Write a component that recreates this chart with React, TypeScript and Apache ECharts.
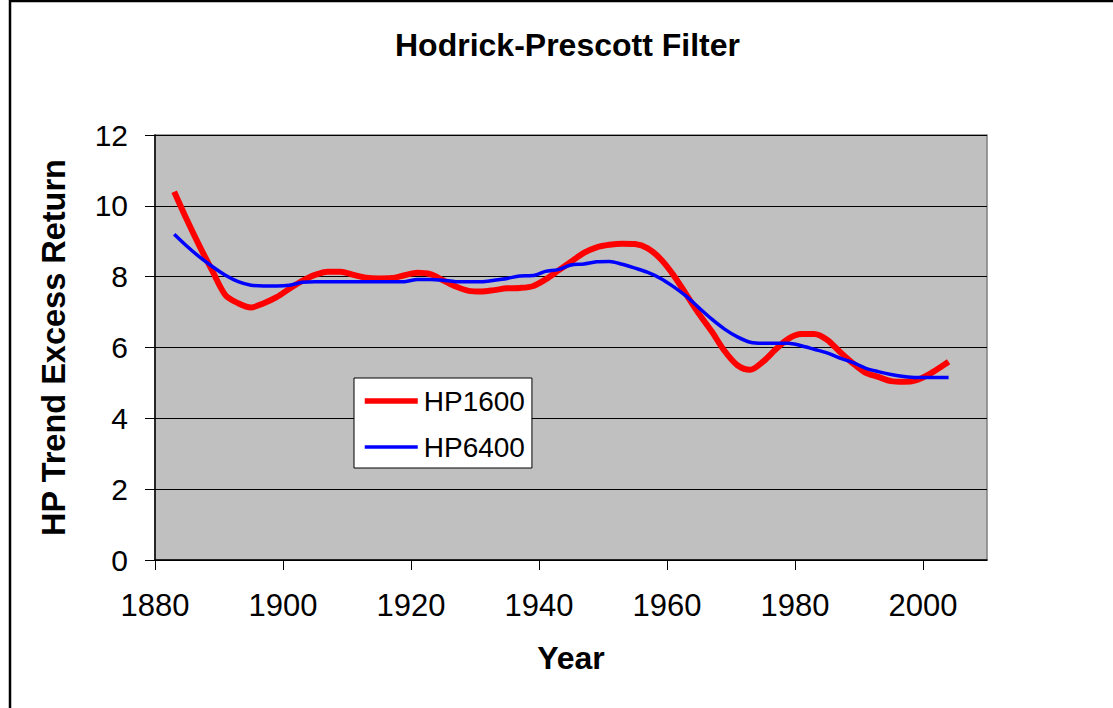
import React, { useEffect, useRef } from "react";
import * as echarts from "echarts";

const years = [
  1883, 1885, 1887, 1889, 1891, 1893, 1895, 1897, 1899, 1901, 1903, 1905, 1907, 1909, 1911, 1913, 1915, 1917, 1919, 1921,
  1923, 1925, 1927, 1929, 1931, 1933, 1935, 1937, 1939, 1941, 1943, 1945, 1947, 1949, 1951, 1953, 1955, 1957, 1959, 1961,
  1963, 1965, 1967, 1969, 1971, 1973, 1975, 1977, 1979, 1981, 1983, 1985, 1987, 1989, 1991, 1993, 1995, 1997, 1999, 2001,
  2003, 2004,
];

const hp1600 = [
  10.4, 9.6, 8.85, 8.15, 7.48, 7.25, 7.13, 7.25, 7.42, 7.66, 7.88, 8.05, 8.14, 8.14, 8.05, 7.97, 7.95, 7.96, 8.04, 8.11,
  8.07, 7.9, 7.72, 7.6, 7.58, 7.62, 7.67, 7.68, 7.73, 7.92, 8.17, 8.42, 8.67, 8.83, 8.9, 8.93, 8.92, 8.8, 8.5, 8.05,
  7.5, 6.95, 6.45, 5.9, 5.5, 5.37, 5.6, 5.95, 6.25, 6.38, 6.38, 6.22, 5.88, 5.56, 5.29, 5.17, 5.05, 5.03, 5.08, 5.25,
  5.48, 5.6,
];

const hp6400 = [
  9.2, 8.86, 8.55, 8.28, 8.04, 7.86, 7.76, 7.74, 7.74, 7.76, 7.84, 7.86, 7.86, 7.86, 7.86, 7.86, 7.86, 7.86, 7.86, 7.92,
  7.92, 7.9, 7.86, 7.86, 7.86, 7.9, 7.95, 8.02, 8.03, 8.15, 8.2, 8.33, 8.36, 8.42, 8.43, 8.35, 8.24, 8.12, 7.95, 7.72,
  7.45, 7.12, 6.8, 6.52, 6.3, 6.15, 6.12, 6.12, 6.12, 6.05, 5.95, 5.85, 5.7, 5.58, 5.42, 5.32, 5.24, 5.18, 5.15, 5.15,
  5.15, 5.15,
];

const xTicks = [1880, 1900, 1920, 1940, 1960, 1980, 2000];

const FONT = "'Liberation Sans', Arial, sans-serif";

export default function App() {
  const ref = useRef<HTMLDivElement>(null);

  useEffect(() => {
    if (!ref.current) return;
    const chart = echarts.init(ref.current, null, { renderer: "svg" });
    const pairs = (vals: number[]) => years.map((y, i) => [y, vals[i]]);
    chart.setOption({
      animation: false,
      backgroundColor: "#ffffff",
      textStyle: { fontFamily: FONT },
      title: {
        text: "Hodrick-Prescott Filter",
        left: 395,
        top: 29,
        padding: 0,
        textStyle: { fontFamily: FONT, fontSize: 32, fontWeight: "bold", color: "#000" },
      },
      graphic: [
        {
          type: "rect",
          shape: { x: 10, y: 1, width: 1200, height: 800 },
          style: { fill: "none", stroke: "#000", lineWidth: 2.5 },
          silent: true,
          z: 100,
        },
      ],
      grid: {
        left: 155,
        right: 126,
        top: 135,
        bottom: 148,
        show: true,
        backgroundColor: "#C0C0C0",
        borderColor: "#808080",
        borderWidth: 1.5,
      },
      legend: {
        orient: "vertical",
        left: 354,
        top: 378,
        padding: [9, 7, 7, 8],
        itemGap: 18,
        itemWidth: 53,
        itemHeight: 4,
        backgroundColor: "#ffffff",
        borderColor: "#000000",
        borderWidth: 1,
        itemStyle: { opacity: 0 },
        textStyle: { fontFamily: FONT, fontSize: 28, color: "#000", padding: [0, 0, 0, 1] },
        data: [
          { name: "HP1600", itemStyle: { opacity: 0 }, lineStyle: { width: 5.5, color: "#FF0000" } },
          { name: "HP6400", itemStyle: { opacity: 0 }, lineStyle: { width: 3.5, color: "#0000FF" } },
        ],
      },
      xAxis: {
        type: "value",
        min: 1880,
        max: 2010,
        interval: 20,
        name: "Year",
        nameLocation: "middle",
        nameGap: 82,
        nameTextStyle: { fontFamily: FONT, fontSize: 32, fontWeight: "bold", color: "#000" },
        axisLine: { show: true, lineStyle: { color: "#000", width: 1.5 } },
        axisTick: { show: true, length: 10, lineStyle: { color: "#000", width: 1 }, customValues: xTicks },
        axisLabel: {
          margin: 30,
          fontFamily: FONT,
          fontSize: 31,
          color: "#000",
          customValues: xTicks,
          formatter: (v: number) => String(v),
        },
        splitLine: { show: false },
      },
      yAxis: {
        type: "value",
        min: 0,
        max: 12,
        interval: 2,
        name: "HP Trend Excess Return",
        nameLocation: "middle",
        nameGap: 85,
        nameTextStyle: { fontFamily: FONT, fontSize: 32.5, fontWeight: "bold", color: "#000" },
        axisLine: { show: true, lineStyle: { color: "#000", width: 1.5 } },
        axisTick: { show: true, length: 10, lineStyle: { color: "#000", width: 1 } },
        axisLabel: { margin: 27, fontFamily: FONT, fontSize: 30, color: "#000" },
        splitLine: { show: true, lineStyle: { color: "#000", width: 1 } },
      },
      series: [
        {
          name: "HP1600",
          type: "line",
          data: pairs(hp1600),
          smooth: 0.3,
          symbol: "none",
          lineStyle: { color: "#FF0000", width: 6 },
          itemStyle: { color: "#FF0000" },
          z: 3,
        },
        {
          name: "HP6400",
          type: "line",
          data: pairs(hp6400),
          smooth: 0.3,
          symbol: "none",
          lineStyle: { color: "#0000FF", width: 3.5 },
          itemStyle: { color: "#0000FF" },
          z: 4,
        },
      ],
    });
    return () => chart.dispose();
  }, []);

  return (
    <div
      ref={ref}
      style={{ position: "fixed", left: 0, top: 0, width: 1113, height: 708 }}
    />
  );
}
